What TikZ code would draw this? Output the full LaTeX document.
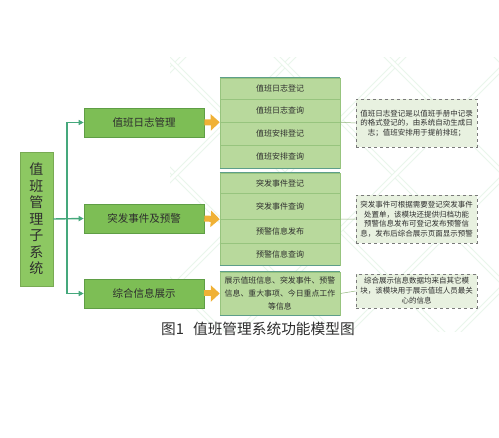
\documentclass[tikz,border=0pt]{standalone}
\usepackage{fontspec}
\setmainfont{Noto Sans CJK SC}
\usetikzlibrary{arrows.meta}
\definecolor{conn}{HTML}{45A87C}
\definecolor{rootfill}{HTML}{8DC862}
\definecolor{lvfill}{HTML}{7DBE55}
\definecolor{lvline}{HTML}{5F9E45}
\definecolor{rowfill}{HTML}{B8D99C}
\definecolor{rowline}{HTML}{97C47E}
\definecolor{rowedge}{HTML}{5E9E8A}
\definecolor{notefill}{HTML}{E8F1E0}
\definecolor{notedash}{HTML}{7A7A7A}
\definecolor{arrowor}{HTML}{F0B135}
\definecolor{wm}{HTML}{E9F6EB}
\definecolor{txt}{HTML}{2E2E2E}
\tikzset{
  rootbox/.style={fill=rootfill, draw=rootfill!85!black, line width=0.5pt, minimum width=33pt, minimum height=134pt, inner sep=0pt, align=center, text=txt, font=\fontsize{14}{16.5}\selectfont},
  lvbox/.style={fill=lvfill, draw=lvline, line width=0.6pt, minimum width=120pt, minimum height=29pt, inner sep=0pt, text=txt, font=\fontsize{10.5}{12}\selectfont},
  rowbox/.style={fill=rowfill, draw=rowline, line width=0.5pt, minimum width=120pt, inner sep=0pt, text=txt, font=\fontsize{8}{10}\selectfont},
  notebox/.style={fill=notefill, draw=notedash, dashed, line width=0.6pt, minimum width=121pt, inner sep=0pt, align=center, text=txt, font=\fontsize{7.5}{9.5}\selectfont},
  conline/.style={draw=conn, line width=1.4pt, -{Triangle[length=5pt,width=5pt]}},
  fatarrow/.style={draw=arrowor, line width=6pt, -{Triangle[length=9pt,width=16pt]}},
  thinlink/.style={draw=rowline!80!gray, line width=0.5pt},
  edgeline/.style={draw=rowedge, line width=1.2pt},
  wmline/.style={draw=wm, line width=1pt, double=white, double distance=3pt}
}
\begin{document}
\begin{tikzpicture}[x=1pt,y=-1pt]
\path[use as bounding box, fill=white] (0,0) rectangle (499,438);
% watermark lattice
\begin{scope}
\clip (170,58) rectangle (499,332);
\foreach \c in {-330,-220,...,700} {
  \draw[wmline] (\c,0) -- (\c+500,500);
  \draw[wmline] (\c+240,0) -- (\c-260,500);
}
\end{scope}
% root
\node[rootbox] (root) at (36.5,219) {值\\班\\管\\理\\子\\系\\统};
% level 2
\node[lvbox] (b1) at (144,122.5) {值班日志管理};
\node[lvbox] (b2) at (144,218.5) {突发事件及预警};
\node[lvbox] (b3) at (144,293.5) {综合信息展示};
% trunk
\coordinate (j) at (67,219);
\draw[conline] (root.east) -- (b2.west);
\draw[conline] (j) |- (b1.west);
\draw[conline] (j) |- (b3.west);
% group 1
\node[rowbox, minimum height=21pt] (g1a) at (280,88.5) {值班日志登记};
\node[rowbox, minimum height=23pt] (g1b) at (280,110.5) {值班日志查询};
\node[rowbox, minimum height=23pt] (g1c) at (280,133.5) {值班安排登记};
\node[rowbox, minimum height=23pt] (g1d) at (280,156.5) {值班安排查询};
\draw[edgeline] (g1a.north west) -- (g1a.north east);
\draw[edgeline] (g1d.south west) -- (g1d.south east);
\coordinate (g1w) at (g1b.south west);
\coordinate (g1e) at (g1b.south east);
% group 2
\node[rowbox, minimum height=20pt] (g2a) at (280,183) {突发事件登记};
\node[rowbox, minimum height=26pt] (g2b) at (280,206) {突发事件查询};
\node[rowbox, minimum height=24pt] (g2c) at (280,231) {预警信息发布};
\node[rowbox, minimum height=22pt] (g2d) at (280,254) {预警信息查询};
\draw[edgeline] (g2a.north west) -- (g2a.north east);
\draw[edgeline] (g2d.south west) -- (g2d.south east);
\coordinate (g2w) at (g2b.south west);
\coordinate (g2e) at (g2b.south east);
% group 3
\node[rowbox, minimum height=43pt, align=center, font=\fontsize{7.9}{13}\selectfont] (g3) at (280,293.5) {展示值班信息、突发事件、预警\\信息、重大事项、今日重点工作\\等信息};
\draw[edgeline] (g3.north west) -- (g3.north east);
\draw[edgeline] (g3.south west) -- (g3.south east);
% orange arrows
\draw[fatarrow] (b1.east) -- (g1w);
\draw[fatarrow] (b2.east) -- (g2w);
\draw[fatarrow] (b3.east) -- (g3.west);
% notes
\node[notebox, minimum height=48pt] (n1) at (416.5,123) {值班日志登记是以值班手册中记录\\的格式登记的，由系统自动生成日\\志；值班安排用于提前排班；};
\node[notebox, minimum height=48pt] (n2) at (416.5,219) {突发事件可根据需要登记突发事件\\处置单，该模块还提供归档功能\\预警信息发布可登记发布预警信\\息，发布后综合展示页面显示预警};
\node[notebox, minimum height=34pt, font=\fontsize{7.5}{10}\selectfont] (n3) at (416.5,291) {综合展示信息数据均来自其它模\\块，该模块用于展示值班人员最关\\心的信息};
\draw[thinlink] (g1e) -- (n1.west);
\draw[thinlink] (g2e) -- (n2.west);
\draw[thinlink] (g3.east) -- (n3.west);
% caption
\node[anchor=west, text=txt, font=\fontsize{14.7}{16}\selectfont, inner sep=0pt] (cap) at (161,329) {图1\hspace{9pt}值班管理系统功能模型图};
\end{tikzpicture}
\end{document}
